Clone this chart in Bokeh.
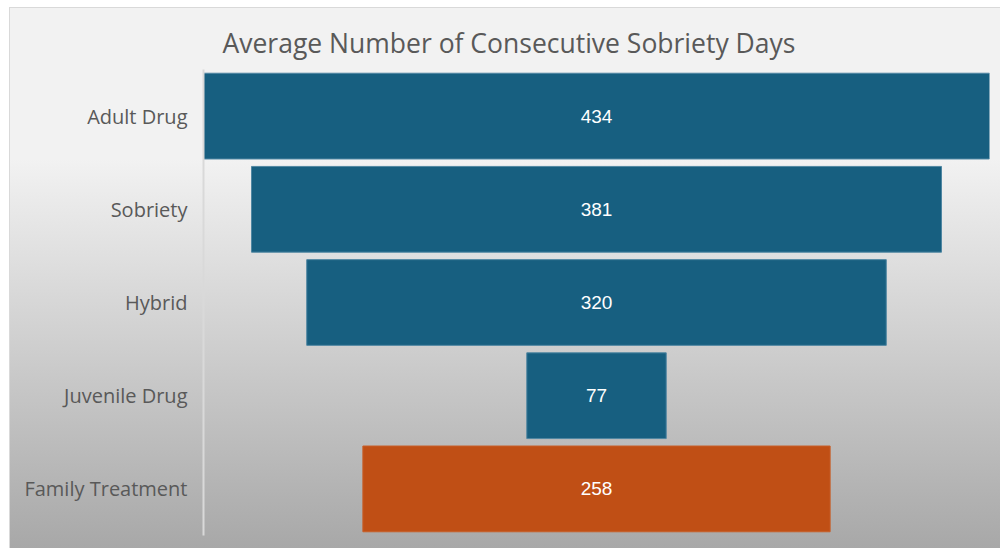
from bokeh.plotting import figure
from bokeh.models import ColumnDataSource, LabelSet, Title, InlineStyleSheet
from bokeh.core.properties import value
from bokeh.embed import file_html
from bokeh.resources import INLINE

categories = ["Adult Drug", "Sobriety", "Hybrid", "Juvenile Drug", "Family Treatment"]
values = [434, 381, 320, 77, 258]
colors = ["#175F80", "#175F80", "#175F80", "#175F80", "#C04F15"]
outline_colors = ["#4F86A2", "#4F86A2", "#4F86A2", "#4F86A2", "#C85E28"]
title_text = "Average Number of Consecutive Sobriety Days"

vmax = max(values)
left = [(vmax - v) / 2 for v in values]
right = [l + v for l, v in zip(left, values)]
mid = [(l + r) / 2 for l, r in zip(left, right)]

src = ColumnDataSource(dict(cat=categories, val=values, left=left, right=right,
                            mid=mid, color=colors, outline=outline_colors,
                            lab=[str(v) for v in values]))

W, H = 991, 541
p = figure(width=W, height=H, y_range=list(reversed(categories)), x_range=(0, vmax),
           output_backend="svg", toolbar_location=None,
           min_border_left=194, min_border_right=11, min_border_top=62, min_border_bottom=13)
p.margin = (7, 0, 0, 9)
p.stylesheets = [InlineStyleSheet(css=
    ":host { background: linear-gradient(to bottom, #F2F2F2 0%, #F2F2F2 28%, #A8A8A8 100%);"
    " box-shadow: inset 1px 1px 0 0 #D9D9D9; }")]
p.background_fill_color = None
p.border_fill_color = None
p.outline_line_color = None

p.hbar(y="cat", left="left", right="right", height=0.92, fill_color="color",
       line_color="outline", line_width=1, source=src)

labels = LabelSet(x="mid", y="cat", text="lab", source=src, text_color="white",
                  text_font=value("Liberation Sans"), text_font_size="19px",
                  text_align="center", text_baseline="middle")
p.add_layout(labels)

p.add_layout(Title(text=title_text, text_font="Open Sans", text_font_size="26.5px",
                   text_font_style="normal", text_color="#595959", align="left",
                   offset=19, standoff=18), "above")

p.xaxis.visible = False
p.xgrid.visible = False
p.ygrid.visible = False
p.yaxis.axis_line_color = "#D9D9D9"
p.yaxis.axis_line_width = 2
p.yaxis.major_tick_line_color = None
p.yaxis.minor_tick_line_color = None
p.yaxis.major_label_text_font = "Open Sans"
p.yaxis.major_label_text_font_size = "20px"
p.yaxis.major_label_text_color = "#595959"
p.yaxis.major_label_standoff = 10

open("out.html", "w").write(file_html(p, INLINE))
